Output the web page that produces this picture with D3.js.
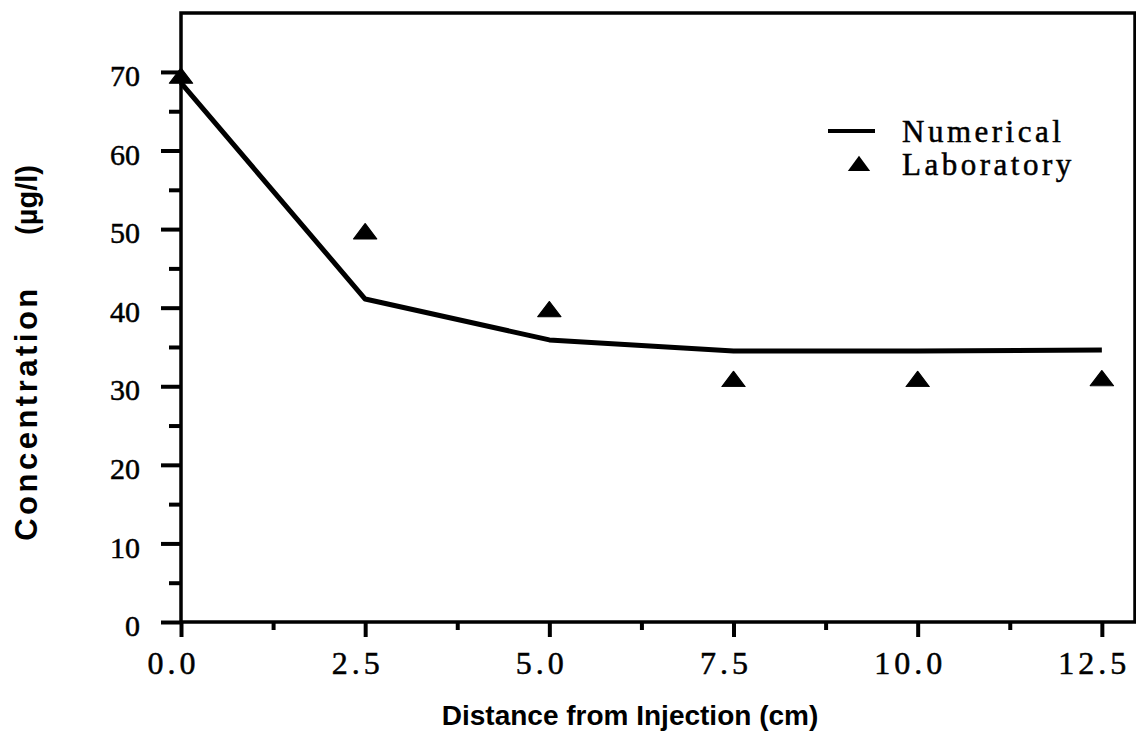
<!DOCTYPE html>
<html><head><meta charset="utf-8">
<script src="https://cdn.jsdelivr.net/npm/d3@7"></script>
<style>html,body{margin:0;padding:0;background:#fff;}</style>
</head><body>
<svg id="c" width="1136" height="734"></svg>
<script>
const xNumerical = [0, 2.5, 5.0, 7.5, 10.0, 12.5];
const yNumerical = [68.6, 41.1, 35.9, 34.5, 34.5, 34.6];
const xLab = [0, 2.5, 5.0, 7.5, 10.0, 12.5];
const yLab = [69.2, 49.4, 39.5, 30.6, 30.6, 30.7];
const xTicks = [0, 2.5, 5.0, 7.5, 10.0, 12.5];
const xTickLabels = ["0.0", "2.5", "5.0", "7.5", "10.0", "12.5"];
const xMinor = [1.25, 3.75, 6.25, 8.75, 11.25];
const yTicks = [0, 10, 20, 30, 40, 50, 60, 70];
const yMinor = [5, 15, 25, 35, 45, 55, 65];
const legendLabels = ["Numerical", "Laboratory"];

const L = 181, T = 13, R = 1135, B = 622;
const svg = d3.select("#c");
const x = d3.scaleLinear().domain([0, 12.95]).range([L, R]);
const y = d3.scaleLinear().domain([0, 77.5]).range([B, T]);

// frame
svg.append("rect").attr("x", L).attr("y", T).attr("width", R - L).attr("height", B - T)
  .attr("fill", "none").attr("stroke", "#000").attr("stroke-width", 3.5);

// y axis major
const yAx = svg.append("g").attr("transform", `translate(${L},0)`)
  .call(d3.axisLeft(y).tickValues(yTicks).tickSize(20).tickPadding(21).tickFormat(d3.format("d")));
yAx.select(".domain").remove();
yAx.selectAll(".tick line").attr("stroke-width", 4);
yAx.selectAll(".tick text").attr("font-family", "Liberation Serif").attr("font-size", 30)
  .attr("fill", "#000").attr("stroke", "#000").attr("stroke-width", 0.5).attr("y", 4);
const yAxm = svg.append("g").attr("transform", `translate(${L},0)`)
  .call(d3.axisLeft(y).tickValues(yMinor).tickSize(12).tickFormat(""));
yAxm.select(".domain").remove();
yAxm.selectAll(".tick line").attr("stroke-width", 4);

// x axis
const xAx = svg.append("g").attr("transform", `translate(0,${B})`)
  .call(d3.axisBottom(x).tickValues(xTicks).tickSize(15).tickPadding(14)
    .tickFormat((d, i) => xTickLabels[i]));
xAx.select(".domain").remove();
xAx.selectAll(".tick line").attr("stroke-width", 4);
xAx.selectAll(".tick text").attr("font-family", "Liberation Serif").attr("font-size", 32)
  .attr("letter-spacing", "4px").attr("fill", "#000").attr("stroke", "#000").attr("stroke-width", 0.5)
  .attr("dx", -8);
const xAxm = svg.append("g").attr("transform", `translate(0,${B})`)
  .call(d3.axisBottom(x).tickValues(xMinor).tickSize(8).tickFormat(""));
xAxm.select(".domain").remove();
xAxm.selectAll(".tick line").attr("stroke-width", 4);

// numerical line
const pts = xNumerical.map((v, i) => [v, yNumerical[i]]);
svg.append("path").datum(pts)
  .attr("d", d3.line().x(d => x(d[0])).y(d => y(d[1])))
  .attr("fill", "none").attr("stroke", "#000").attr("stroke-width", 5).attr("stroke-linejoin", "round");

// lab triangles
const tri = d3.symbol().type(d3.symbolTriangle).size(150);
svg.selectAll(".lab").data(xLab.map((v, i) => [v, yLab[i]])).join("path")
  .attr("class", "lab")
  .attr("transform", d => `translate(${x(d[0])},${y(d[1])}) scale(1.25,0.95)`)
  .attr("d", tri).attr("fill", "#000").attr("stroke", "#000").attr("stroke-width", 1).attr("stroke-linejoin", "round");

// legend
const lg = svg.append("g");
lg.append("line").attr("x1", 828).attr("x2", 875).attr("y1", 131).attr("y2", 131)
  .attr("stroke", "#000").attr("stroke-width", 4);
lg.append("path").attr("d", tri).attr("fill", "#000")
  .attr("transform", "translate(859,166) scale(1.2,0.95)");
lg.selectAll("text").data(legendLabels).join("text")
  .attr("x", 902).attr("y", (d, i) => 142 + i * 33)
  .attr("font-family", "Liberation Serif").attr("font-size", 31).attr("letter-spacing", "3.5px")
  .attr("stroke", "#000").attr("stroke-width", 0.5)
  .text(d => d);

// axis titles
svg.append("text").attr("x", 630).attr("y", 725).attr("text-anchor", "middle")
  .attr("font-family", "Liberation Sans").attr("font-weight", "bold").attr("font-size", 28)
  .text("Distance from Injection (cm)");
svg.append("text").attr("transform", "translate(37,413) rotate(-90)").attr("text-anchor", "middle")
  .attr("font-family", "Liberation Sans").attr("font-weight", "bold").attr("font-size", 31)
  .attr("letter-spacing", "3.5px").text("Concentration");
svg.append("text").attr("transform", "translate(37,200) rotate(-90)").attr("text-anchor", "middle")
  .attr("font-family", "Liberation Sans").attr("font-weight", "bold").attr("font-size", 29)
  .text("(µg/l)");
</script>
</body></html>
